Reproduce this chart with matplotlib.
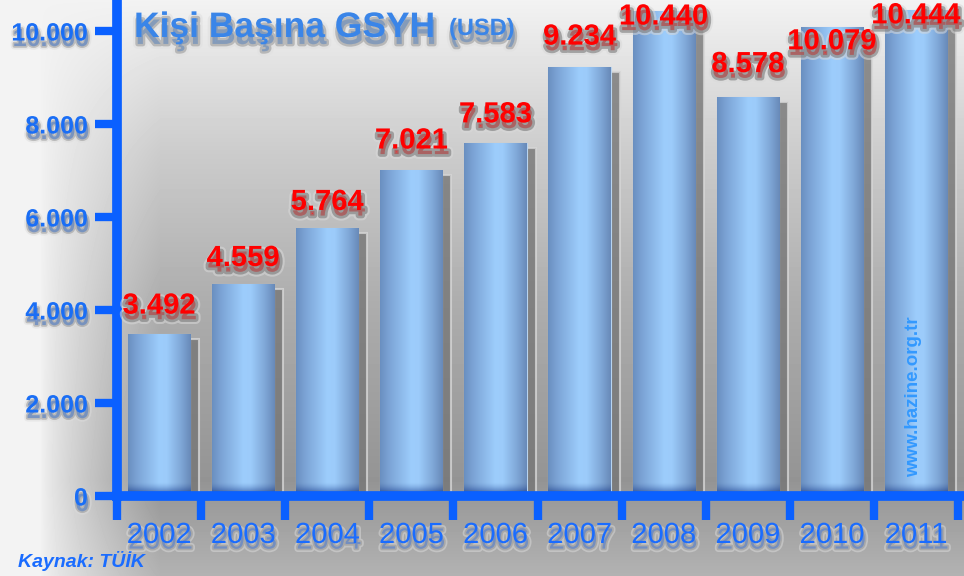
import numpy as np
import matplotlib
matplotlib.use('Agg')
import matplotlib.pyplot as plt
import matplotlib.patheffects as pe
from matplotlib.colors import LinearSegmentedColormap, to_rgb

# ---------------- data ----------------
years = ['2002', '2003', '2004', '2005', '2006', '2007', '2008', '2009', '2010', '2011']
values = [3492, 4559, 5764, 7021, 7583, 9234, 10440, 8578, 10079, 10444]
value_labels = ['3.492', '4.559', '5.764', '7.021', '7.583', '9.234', '10.440', '8.578', '10.079', '10.444']
yticks = [0, 2000, 4000, 6000, 8000, 10000]
ytick_labels = ['0', '2.000', '4.000', '6.000', '8.000', '10.000']
# label vertical offsets (pixels, from bar top to label bottom)
label_dy = [14, 12, 12, 15, 15, 16, -20, 19, -28, -19]

W, H = 964, 576
BLUE = '#0a60ff'
TXT_BLUE = '#1a6ef5'

plt.rcParams['font.family'] = ['Liberation Sans', 'DejaVu Sans']

fig = plt.figure(figsize=(W / 100, H / 100), dpi=100)

# ---------------- background ----------------
bg = fig.add_axes([0, 0, 1, 1])
bg.set_axis_off()
yy, xx = np.mgrid[0:H, 0:W]
dark = np.interp(yy, [0, 40, 150, 300, 480, 520, 576], [0.95, 0.91, 0.80, 0.68, 0.58, 0.63, 0.70])
t = np.clip((xx - 40) / 120.0, 0, 1) ** 0.8
img = 0.95 - (0.95 - dark) * t
bg.imshow(img, cmap='gray', vmin=0, vmax=1, extent=[0, W, H, 0], aspect='auto', interpolation='bilinear')
bg.set_xlim(0, W)
bg.set_ylim(H, 0)

# ---------------- main axes ----------------
px_per_unit_x = 84.1
px_per_1000 = 46.5
ax = fig.add_axes([117 / W, 80 / H, 1 - 117 / W, 496 / H])
ax.patch.set_alpha(0)
ymax = 496 / px_per_1000 * 1000
xmin, xmax = -0.5, -0.5 + (W - 117) / px_per_unit_x
x = np.arange(len(years))
bw = 0.74

# shadows
shadow_dx = 9 / px_per_unit_x
shadow_dy = 5 / px_per_1000 * 1000
ax.bar(x + shadow_dx, np.array(values) - shadow_dy, width=bw, color='#767676', alpha=0.8,
       edgecolor='#d6d6d6', linewidth=1.5, zorder=2)

bars = ax.bar(x, values, width=bw, color='#8ab4e6', edgecolor='#b8d4f0', linewidth=0.8, zorder=3)

bar_cmap = LinearSegmentedColormap.from_list('bar', [
    (0.0, '#6a8fc0'), (0.15, '#7ca4d6'), (0.5, '#9dcdfc'), (0.62, '#9ccbfa'),
    (0.85, '#7ea6d6'), (1.0, '#6889b8')])
grad = np.linspace(0, 1, 256).reshape(1, -1)
navy = to_rgb('#00227a')
base_h = 14 / px_per_1000 * 1000
base = np.zeros((64, 1, 4))
base[..., 0], base[..., 1], base[..., 2] = navy
base[:, 0, 3] = np.linspace(0.85, 0.0, 64) ** 1.5
for b in bars:
    x0, w, h = b.get_x(), b.get_width(), b.get_height()
    im = ax.imshow(grad, cmap=bar_cmap, extent=[x0, x0 + w, 0, h], aspect='auto',
                   origin='lower', zorder=3.2, interpolation='bilinear')
    im.set_clip_path(b)
    im2 = ax.imshow(base, extent=[x0, x0 + w, 0, base_h], aspect='auto',
                    origin='lower', zorder=3.3, interpolation='bilinear')
    im2.set_clip_path(b)

ax.set_xlim(xmin, xmax)
ax.set_ylim(0, ymax)

# value labels
red_fx = [pe.Stroke(offset=(1, -4), linewidth=7, foreground='#d9d9d9', alpha=0.55),
          pe.Stroke(offset=(1, -4), linewidth=4, foreground='#7a7a7a', alpha=0.6),
          pe.Normal()]
for xi, v, lab, dy in zip(x, values, value_labels, label_dy):
    ax.annotate(lab, xy=(xi, v), xytext=(0, dy), textcoords='offset pixels',
                ha='center', va='bottom', fontsize=21, fontweight='bold', color='#ff0000',
                path_effects=red_fx, zorder=6, annotation_clip=False)

# spines / ticks
for s in ['top', 'right']:
    ax.spines[s].set_visible(False)
ax.spines['left'].set_color(BLUE)
ax.spines['left'].set_linewidth(7)
ax.spines['bottom'].set_color(BLUE)
ax.spines['bottom'].set_linewidth(7)
ax.spines['left'].set_zorder(5)
ax.spines['bottom'].set_zorder(5)

glow = [pe.Stroke(offset=(1, -4), linewidth=5, foreground='#dcdcdc', alpha=0.5),
        pe.Stroke(offset=(1, -4), linewidth=2.5, foreground='#8a8a8a', alpha=0.45),
        pe.Normal()]

ax.set_yticks(yticks)
ax.set_yticklabels(ytick_labels)
ax.tick_params(axis='y', direction='out', length=16, width=6, color=BLUE, pad=5,
               labelsize=18, labelcolor=TXT_BLUE)
for lab in ax.get_yticklabels():
    lab.set_fontweight('bold')
    lab.set_path_effects(glow)

ax.set_xticks(x)
ax.set_xticklabels(years)
ax.set_xticks(np.arange(len(years) + 1) - 0.5, minor=True)
ax.tick_params(axis='x', which='major', length=0, pad=18, labelsize=21, labelcolor='#1a6cff')
ax.tick_params(axis='x', which='minor', direction='out', length=17, width=6, color=BLUE)
for lab in ax.get_xticklabels():
    lab.set_path_effects(glow)

# ---------------- texts ----------------
title_fx = [pe.Stroke(offset=(1, -5), linewidth=7, foreground='#e0e0e0', alpha=0.6),
            pe.Stroke(offset=(1, -5), linewidth=3.5, foreground='#959595', alpha=0.55),
            pe.Normal()]
fig.text(134 / W, 1 - 37 / H, 'Kişi Başına GSYH', fontsize=25.5, fontweight='bold',
         color='#3a85e8', ha='left', va='baseline', path_effects=title_fx)
fig.text(449 / W, 1 - 35 / H, '(USD)', fontsize=17, fontweight='bold',
         color='#3a85e8', ha='left', va='baseline', path_effects=title_fx)
fig.text(18 / W, 1 - 567 / H, 'Kaynak: TÜİK', fontsize=14, fontweight='bold', fontstyle='italic',
         color='#1a6cff', ha='left', va='baseline')
fig.text(914 / W, 1 - 397 / H, 'www.hazine.org.tr', fontsize=13.5, fontweight='bold',
         color='#3399ff', rotation=90, ha='center', va='center', zorder=10)

fig.savefig('out.png', dpi=100)
